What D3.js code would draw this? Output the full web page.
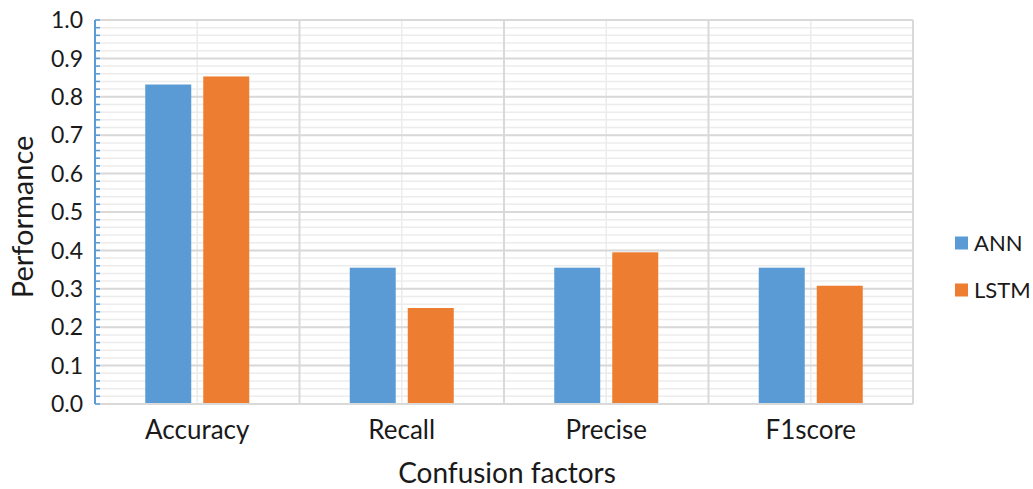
<!DOCTYPE html>
<html>
<head>
<meta charset="utf-8">
<script src="https://cdn.jsdelivr.net/npm/d3@7"></script>
<style>
  html, body { margin: 0; padding: 0; background: #fff; }
  svg text { font-family: Lato, "Open Sans", sans-serif; fill: #1a1a1a; }
</style>
</head>
<body>
<svg id="chart" width="1033" height="489"></svg>
<script>
// Confusion-factor scores for the two models
const categories = ["Accuracy", "Recall", "Precise", "F1score"];
const series = ["ANN", "LSTM"];
const annValues = [0.832, 0.355, 0.355, 0.355];
const lstmValues = [0.853, 0.25, 0.395, 0.308];
const yTicks = [0, 0.1, 0.2, 0.3, 0.4, 0.5, 0.6, 0.7, 0.8, 0.9, 1.0];
const colors = { ANN: "#5b9bd5", LSTM: "#ed7d31" };

const svg = d3.select("#chart");
const margin = { left: 95, right: 120, top: 20, bottom: 85 };
const W = 1033, H = 489;
const plotL = margin.left, plotR = W - margin.right, plotT = margin.top, plotB = H - margin.bottom;

const x = d3.scaleBand().domain(categories).range([plotL, plotR]).padding(0);
const xs = d3.scaleBand().domain(series).range([0, x.bandwidth()])
  .paddingInner(0.207).paddingOuter(0.866);
const y = d3.scaleLinear().domain([0, 1]).range([plotB, plotT]);

const grid = svg.append("g");
// minor horizontal gridlines every 0.02
grid.selectAll("line.hminor").data(d3.range(0, 1.0001, 0.02))
  .join("line")
  .attr("x1", plotL).attr("x2", plotR)
  .attr("y1", d => y(d)).attr("y2", d => y(d))
  .attr("stroke", "#ececec").attr("stroke-width", 1.5);
// minor vertical gridlines at category centres
grid.selectAll("line.vminor").data(categories)
  .join("line")
  .attr("x1", d => x(d) + x.bandwidth() / 2).attr("x2", d => x(d) + x.bandwidth() / 2)
  .attr("y1", plotT).attr("y2", plotB)
  .attr("stroke", "#ececec").attr("stroke-width", 1.5);
// major horizontal gridlines
grid.selectAll("line.hmajor").data(yTicks)
  .join("line")
  .attr("x1", plotL).attr("x2", plotR)
  .attr("y1", d => y(d)).attr("y2", d => y(d))
  .attr("stroke", "#d9d9d9").attr("stroke-width", 2);
// major vertical gridlines at category boundaries
grid.selectAll("line.vmajor").data(categories)
  .join("line")
  .attr("x1", d => x(d) + x.bandwidth()).attr("x2", d => x(d) + x.bandwidth())
  .attr("y1", plotT).attr("y2", plotB)
  .attr("stroke", "#d9d9d9").attr("stroke-width", 2);

// bars
const rows = categories.map((c, i) => ({ cat: c, ANN: annValues[i], LSTM: lstmValues[i] }));
svg.append("g").selectAll("g").data(rows).join("g")
  .attr("transform", d => `translate(${x(d.cat)},0)`)
  .selectAll("rect").data(d => series.map(s => ({ s, v: d[s] })))
  .join("rect")
  .attr("x", d => xs(d.s))
  .attr("width", xs.bandwidth())
  .attr("y", d => y(d.v))
  .attr("height", d => plotB - y(d.v))
  .attr("fill", d => colors[d.s]);

// x axis baseline
svg.append("line")
  .attr("x1", plotL).attr("x2", plotR).attr("y1", plotB).attr("y2", plotB)
  .attr("stroke", "#d9d9d9").attr("stroke-width", 2);

// y axis: blue line with inward ticks, minor every 0.02
const yAxis = svg.append("g");
yAxis.append("line")
  .attr("x1", plotL).attr("x2", plotL).attr("y1", plotT).attr("y2", plotB)
  .attr("stroke", "#5b9bd5").attr("stroke-width", 2);
yAxis.selectAll("line.tick").data(d3.range(0, 1.0001, 0.02))
  .join("line")
  .attr("x1", plotL).attr("x2", plotL + 5)
  .attr("y1", d => y(d)).attr("y2", d => y(d))
  .attr("stroke", "#5b9bd5").attr("stroke-width", 1.5);
yAxis.selectAll("text").data(yTicks)
  .join("text")
  .attr("x", 83).attr("y", d => y(d))
  .attr("dy", "0.36em")
  .attr("text-anchor", "end")
  .style("font-size", "23px")
  .text(d => d.toFixed(1));

// category labels
svg.append("g").selectAll("text").data(categories)
  .join("text")
  .attr("x", d => x(d) + x.bandwidth() / 2)
  .attr("y", 439)
  .attr("text-anchor", "middle")
  .style("font-size", "26px")
  .text(d => d);

// axis titles
svg.append("text")
  .attr("x", 507).attr("y", 483)
  .attr("text-anchor", "middle")
  .style("font-size", "28px")
  .text("Confusion factors");
svg.append("text")
  .attr("transform", "translate(33,217) rotate(-90)")
  .attr("text-anchor", "middle")
  .style("font-size", "29px")
  .text("Performance");

// legend
const legend = svg.append("g").selectAll("g").data(series).join("g")
  .attr("transform", (d, i) => `translate(955,${243 + i * 47})`);
legend.append("rect")
  .attr("x", 0).attr("y", -6.5).attr("width", 13).attr("height", 13)
  .attr("fill", d => colors[d]);
legend.append("text")
  .attr("x", 19).attr("y", 0).attr("dy", "0.36em")
  .style("font-size", "22px")
  .text(d => d);
</script>
</body>
</html>
